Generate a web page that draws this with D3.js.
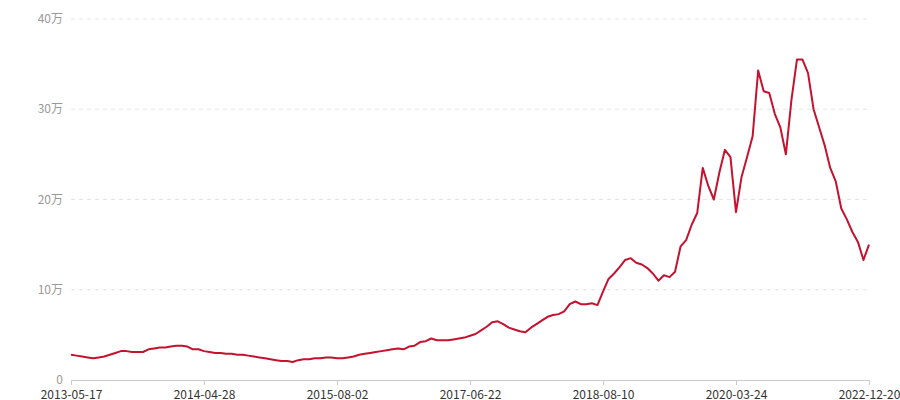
<!DOCTYPE html>
<html><head><meta charset="utf-8">
<script src="https://cdn.jsdelivr.net/npm/d3@7"></script>
<style>
body{margin:0;background:#fff;font-family:"Noto Sans CJK SC","Noto Sans",sans-serif;}
</style></head><body>
<svg id="chart" width="900" height="400"></svg>
<script>
// Values in 万, sampled evenly between the labelled dates
const seg1 = [2.8,2.7,2.6,2.5,2.4,2.5,2.6,2.8,3.0,3.2,3.2,3.1,3.1,3.1,3.4,3.5,3.6,3.6,3.7,3.8,3.8,3.7,3.4,3.4,3.2];
const seg2 = [3.1,3.0,3.0,2.9,2.9,2.8,2.8,2.7,2.6,2.5,2.4,2.3,2.2,2.1,2.1,2.0,2.2,2.3,2.3,2.4,2.4,2.5,2.5,2.4];
const seg3 = [2.4,2.5,2.6,2.8,2.9,3.0,3.1,3.2,3.3,3.4,3.5,3.4,3.7,3.8,4.2,4.3,4.6,4.4,4.4,4.4,4.5,4.6,4.7,4.9];
const seg4 = [5.1,5.5,5.9,6.4,6.5,6.2,5.8,5.6,5.4,5.3,5.8,6.2,6.6,7.0,7.2,7.3,7.6,8.4,8.7,8.4,8.4,8.5,8.3,9.8];
const seg5 = [11.2,11.8,12.5,13.3,13.5,13.0,12.8,12.4,11.8,11.0,11.6,11.4,12.0,14.8,15.5,17.2,18.5,23.5,21.5,20.0,23.0,25.5,24.7,18.6];
const seg6 = [22.5,24.7,27.0,34.3,32.0,31.8,29.5,28.0,25.0,31.0,35.5,35.5,34.0,30.0,28.0,26.0,23.5,22.0,19.0,17.8,16.4,15.3,13.3,15.0];
const values = [].concat(seg1, seg2, seg3, seg4, seg5, seg6);
const tickLabels = ['2013-05-17','2014-04-28','2015-08-02','2017-06-22','2018-08-10','2020-03-24','2022-12-20'];
const tickStep = 24;
const yTicks = [0, 10, 20, 30, 40];

const svg = d3.select('#chart');
const m = { left: 71, right: 869, top: 19, bottom: 380 };

const x = d3.scaleLinear().domain([0, values.length - 1]).range([m.left, m.right]);
const y = d3.scaleLinear().domain([0, 40]).range([m.bottom, m.top]);

// Grid + y labels
svg.append('g').selectAll('line')
  .data(yTicks.filter((d) => d > 0))
  .join('line')
  .attr('x1', m.left).attr('x2', m.right)
  .attr('y1', (d) => y(d)).attr('y2', (d) => y(d))
  .attr('stroke', '#e6e6e6').attr('stroke-dasharray', '4,4');

svg.append('g').selectAll('text')
  .data(yTicks)
  .join('text')
  .attr('x', m.left - 8).attr('y', (d) => y(d) + 4)
  .attr('text-anchor', 'end')
  .attr('font-size', 12).attr('fill', '#999')
  .text((d) => (d === 0 ? '0' : d + '万'));

// X axis
const xAxis = d3.axisBottom(x)
  .tickValues(tickLabels.map((_, i) => i * tickStep))
  .tickFormat((d) => tickLabels[d / tickStep])
  .tickSize(5).tickSizeOuter(0);
const gx = svg.append('g').attr('transform', `translate(0,${m.bottom})`).call(xAxis);
gx.select('.domain').attr('stroke', '#ccc');
gx.selectAll('.tick line').attr('stroke', '#ccc');
gx.selectAll('.tick text').attr('fill', '#333').attr('font-size', 12)
  .attr('font-family', '"Noto Sans CJK SC","Noto Sans",sans-serif').attr('dy', '0.9em');

// Line
const line = d3.line().x((d, i) => x(i)).y((d) => y(d));
svg.append('path').datum(values)
  .attr('d', line)
  .attr('fill', 'none')
  .attr('stroke', '#c4122f')
  .attr('stroke-width', 2)
  .attr('stroke-linejoin', 'round');
</script>
</body></html>
